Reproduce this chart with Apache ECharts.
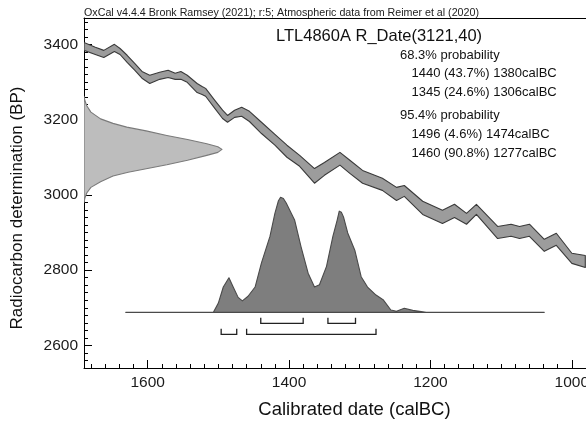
<!DOCTYPE html>
<html><head><meta charset="utf-8">
<script src="https://cdn.jsdelivr.net/npm/echarts@6/dist/echarts.min.js"></script>
<style>html,body{margin:0;padding:0;background:#fff}#c{width:586px;height:421px}</style>
</head><body><div id="c"></div>
<script>
const FONT = '"Liberation Sans", Arial, sans-serif';

// ---- Calibration curve (IntCal20 band), calBC vs BP ----
const calYears = [1690,1674,1662,1647,1639,1629,1618,1608,1597,1583,1571,1561,1553,1544,1530,1523,1518,1505,1494,1487,1477,1467,1456,1439,1420,1403,1385,1364,1350,1328,1314,1296,1268,1248,1237,1211,1183,1166,1149,1135,1105,1086,1074,1060,1039,1022,1000,981];
const calUpper = [3405,3392,3384,3400,3389,3371,3349,3328,3318,3326,3331,3323,3328,3318,3296,3288,3283,3251,3225,3211,3225,3233,3222,3193,3161,3132,3105,3070,3086,3113,3092,3065,3044,3020,3025,2983,2959,2975,2951,2975,2916,2922,2916,2922,2882,2898,2845,2839];
const calLower = [3384,3373,3365,3381,3373,3352,3331,3310,3296,3307,3312,3307,3307,3299,3272,3267,3262,3230,3203,3193,3206,3209,3195,3163,3132,3100,3076,3031,3052,3079,3057,3031,3012,2985,2996,2948,2924,2940,2922,2948,2884,2890,2884,2890,2850,2866,2818,2807];

// ---- Radiocarbon measurement distribution (relative height) ----
const gaussBP = [3262,3250,3237,3220,3202,3190,3180,3170,3158,3147,3136,3128,3121,3113,3105,3092,3080,3070,3060,3050,3035,3020,3005,2992,2980];
const gaussH  = [0,0.007,0.02,0.05,0.12,0.21,0.31,0.45,0.6,0.75,0.89,0.97,1,0.97,0.89,0.75,0.6,0.46,0.32,0.21,0.12,0.05,0.02,0.007,0];

// ---- Calibrated date distribution (relative probability) ----
const distYears = [1631,1507,1500,1493,1485,1479,1472,1466,1458,1448,1439,1427,1420,1415,1412,1408,1404,1392,1383,1373,1364,1357,1347,1338,1332,1329,1326,1323,1317,1307,1298,1289,1277,1267,1256,1248,1237,1225,1206,1039];
const distH     = [0,0,0.08,0.22,0.30,0.22,0.13,0.10,0.14,0.22,0.43,0.66,0.86,0.97,1,0.99,0.95,0.80,0.57,0.34,0.22,0.24,0.40,0.66,0.80,0.88,0.87,0.83,0.69,0.54,0.31,0.22,0.15,0.11,0.02,0.01,0.035,0.017,0,0];

// ---- Ranges ----
const range68 = [[1440,1380],[1345,1306]];
const range95 = [[1496,1474],[1460,1277]];

// ---- Texts ----
const headerText = 'OxCal v4.4.4 Bronk Ramsey (2021); r:5; Atmospheric data from Reimer et al (2020)';
const dateTitle = 'LTL4860A R_Date(3121,40)';
const probLines = [
  {t:'68.3% probability', indent:0},
  {t:'1440 (43.7%) 1380calBC', indent:1},
  {t:'1345 (24.6%) 1306calBC', indent:1},
  {t:'95.4% probability', indent:0},
  {t:'1496 (4.6%) 1474calBC', indent:1},
  {t:'1460 (90.8%) 1277calBC', indent:1}
];
const probY = [55, 73.5, 92, 115, 134, 153];
const xTickLabels = [1000,1200,1400,1600];
const yTickLabels = [2600,2800,3000,3200,3400];
const xName = 'Calibrated date (calBC)';
const yName = 'Radiocarbon determination (BP)';

const chart = echarts.init(document.getElementById('c'));

function polySeries(xIdx, yIdx, pts, fill, stroke, z) {
  return {
    type:'custom', xAxisIndex:xIdx, yAxisIndex:yIdx, data:pts, clip:true, silent:true, z:z,
    renderItem:function(params, api){
      if (params.dataIndex !== 0) return null;
      return {type:'polygon', shape:{points: pts.map(p => api.coord(p))},
              style:{fill:fill, stroke:stroke, lineWidth:1.1, lineJoin:'round'}};
    }
  };
}

const bandPts = calYears.map((x,i)=>[x, calUpper[i]])
  .concat(calYears.map((x,i)=>[x, calLower[i]]).reverse());
const gaussPts = gaussBP.map((b,i)=>[gaussH[i], b]);
const distPts = distYears.map((x,i)=>[x, distH[i]]);
const bracketData = range68.map(r=>[r[0], r[1], 0]).concat(range95.map(r=>[r[0], r[1], 1]));

const axisLineStyle = {color:'#000', width:1};
const labelStyle = {color:'#1a1a1a', fontFamily:FONT, fontSize:15.5};

const option = {
  animation:false,
  backgroundColor:'#fff',
  grid:{left:84, top:18, right:0, bottom:53, containLabel:false, outerBoundsMode:'none'},
  xAxis:[
    {type:'value', min:980, max:1690, interval:20, inverse:true, position:'bottom',
     axisLine:{show:true, onZero:false, lineStyle:axisLineStyle},
     axisTick:{show:true, inside:true, length:4, lineStyle:axisLineStyle},
     axisLabel:{...labelStyle, margin:7, hideOverlap:false, formatter:v => (xTickLabels.indexOf(v) >= 0 ? String(v) : '')},
     splitLine:{show:false}},
    {type:'value', min:980, max:1690, inverse:true, position:'bottom',
     axisLine:{show:false, onZero:false},
     axisTick:{show:true, inside:true, length:8, lineStyle:axisLineStyle, customValues:xTickLabels},
     axisLabel:{show:false}, splitLine:{show:false}},
    {type:'value', min:0, max:502/138, position:'top',
     axisLine:{show:true, onZero:false, lineStyle:axisLineStyle},
     axisTick:{show:false}, axisLabel:{show:false}, splitLine:{show:false}}
  ],
  yAxis:[
    {type:'value', min:2540, max:3470, interval:20, position:'left',
     axisLine:{show:true, onZero:false, lineStyle:axisLineStyle},
     axisTick:{show:true, inside:true, length:4, lineStyle:axisLineStyle},
     axisLabel:{...labelStyle, margin:6, formatter:v => (yTickLabels.indexOf(v) >= 0 ? String(v) : '')},
     splitLine:{show:false}},
    {type:'value', min:2540, max:3470, position:'left',
     axisLine:{show:false, onZero:false},
     axisTick:{show:true, inside:true, length:8, lineStyle:axisLineStyle, customValues:yTickLabels},
     axisLabel:{show:false}, splitLine:{show:false}},
    {type:'value', min:-0.484, max:2.559, show:false, position:'right', axisLine:{onZero:false}, splitLine:{show:false}}
  ],
  series:[
    polySeries(2, 0, gaussPts, '#bdbdbd', '#7a7a7a', 1),
    polySeries(0, 0, bandPts, '#9c9c9c', '#3a3a3a', 2),
    polySeries(0, 2, distPts, '#7e7e7e', '#4a4a4a', 3),
    {type:'custom', xAxisIndex:0, yAxisIndex:2, data:bracketData, silent:true, z:4,
     encode:{x:[0,1], y:2},
     renderItem:function(params, api){
       const a = api.coord([api.value(0), 0]);
       const b = api.coord([api.value(1), 0]);
       const yy = a[1] + (api.value(2) === 0 ? 11 : 22);
       return {type:'polyline', shape:{points:[[a[0], yy-5.5],[a[0], yy],[b[0], yy],[b[0], yy-5.5]]},
               style:{stroke:'#222', lineWidth:1.3, fill:null}};
     }}
  ],
  graphic:[
    {type:'text', x:84, y:13, style:{text:headerText, font:'10.7px ' + FONT, fill:'#222', textAlign:'left', textVerticalAlign:'middle'}},
    {type:'text', x:276, y:36, style:{text:dateTitle, font:'16.5px ' + FONT, fill:'#111', textAlign:'left', textVerticalAlign:'middle'}},
    ...probLines.map((p,i)=>({type:'text', x: p.indent ? 411.5 : 400, y: probY[i],
       style:{text:p.t, font:'13px ' + FONT, fill:'#111', textAlign:'left', textVerticalAlign:'middle'}})),
    {type:'text', x:354.5, y:410, style:{text:xName, font:'18.5px ' + FONT, fill:'#111', textAlign:'center', textVerticalAlign:'middle'}},
    {type:'text', x:17, y:208, rotation:Math.PI/2, style:{text:yName, font:'17px ' + FONT, fill:'#111', textAlign:'center', textVerticalAlign:'middle'}}
  ]
};
chart.setOption(option);
</script>
</body></html>
